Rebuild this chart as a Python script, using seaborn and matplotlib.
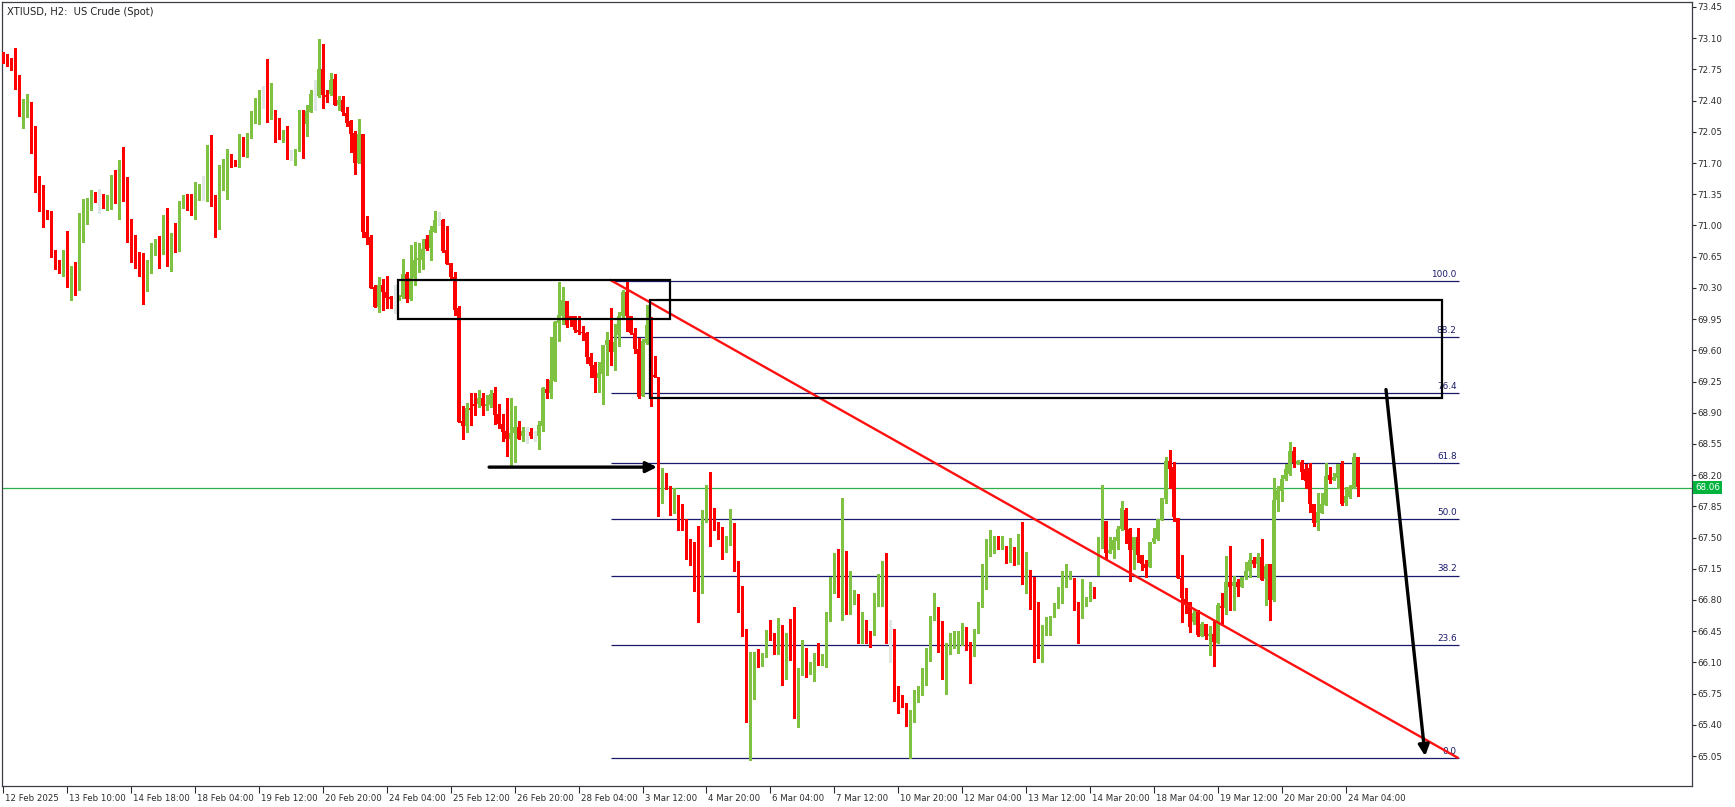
import numpy as np
import pandas as pd
import seaborn as sns
import matplotlib.pyplot as plt
import matplotlib.transforms as mtransforms
from matplotlib.patches import Rectangle

# XTIUSD H2 candles (bar 0 = 12 Feb 2025)
opens = [
    72.93, 72.83, 72.81, 72.76, 72.64, 72.33, 72.35, 72.38, 71.83, 71.53,
    71.26, 71.11, 71.08, 70.70, 70.57, 70.55, 70.64, 70.33, 70.50, 70.34,
    70.89, 71.04, 71.19, 71.35, 71.27, 71.29, 71.22, 71.26, 71.53, 71.34,
    71.65, 71.33, 71.02, 70.75, 70.66, 70.66, 70.29, 70.52, 70.73, 70.76,
    70.69, 70.88, 70.63, 70.81, 70.74, 71.26, 71.35, 71.20, 71.12, 71.38,
    71.40, 71.40, 71.60, 71.26, 70.99, 71.41, 71.43, 71.78, 71.72, 71.69,
    71.96, 71.80, 72.03, 72.23, 72.36, 72.40, 72.45, 72.19, 72.25, 72.07,
    72.01, 72.07, 71.79, 71.77, 71.84, 72.27, 72.14, 72.27, 72.46, 72.45,
    72.75, 72.46, 72.47, 72.64, 72.35, 72.41, 72.26, 72.17, 72.04, 71.70,
    72.03, 70.93, 70.87, 70.31, 70.09, 70.33, 70.25, 70.20, 70.17, 70.17,
    70.20, 70.46, 70.18, 70.41, 70.61, 70.61, 70.85, 70.75, 70.93, 71.06,
    71.06, 70.72, 70.58, 70.42, 70.07, 68.81, 68.75, 68.95, 69.00, 69.00,
    69.06, 68.97, 68.99, 69.12, 68.89, 68.77, 68.69, 68.60, 68.67, 68.74,
    68.64, 68.68, 68.68, 68.67, 68.64, 68.75, 69.17, 69.12, 69.26, 69.91,
    69.99, 70.15, 69.99, 69.99, 69.83, 69.81, 69.79, 69.53, 69.43, 69.29,
    69.33, 69.66, 69.71, 69.58, 69.77, 69.98, 70.25, 69.99, 69.79, 69.62,
    69.09, 69.68, 69.87, 69.32, 69.30, 68.08, 68.17, 68.08, 67.78, 67.92,
    67.72, 67.61, 67.33, 67.28, 67.26, 67.06, 67.74, 68.08, 67.74, 67.65,
    67.60, 67.41, 67.42, 67.61, 67.16, 66.71, 66.42, 65.55, 65.95, 66.12,
    66.10, 66.17, 66.46, 66.40, 66.21, 66.51, 66.22, 66.43, 66.25, 65.58,
    66.04, 66.24, 65.97, 66.09, 66.15, 66.13, 66.13, 66.62, 67.02, 67.05,
    66.80, 67.35, 66.76, 66.78, 66.87, 66.32, 66.50, 66.41, 66.41, 66.86,
    66.95, 67.18, 66.50, 66.37, 65.77, 65.71, 65.61, 65.48, 65.49, 65.66,
    65.74, 66.02, 66.13, 66.58, 66.59, 66.56, 65.94, 66.19, 66.33, 66.35,
    66.38, 66.40, 66.33, 66.23, 66.43, 66.73, 66.98, 67.33, 67.36, 67.42,
    67.38, 67.41, 67.23, 67.39, 67.20, 67.48, 66.99, 67.03, 66.80, 66.54,
    66.16, 66.43, 66.52, 66.61, 66.73, 66.77, 67.03, 67.03, 67.05, 66.76,
    66.68, 66.74, 66.80, 66.90, 67.08, 67.40, 67.69, 67.33, 67.36, 67.46,
    67.60, 67.81, 67.60, 67.36, 67.51, 67.30, 67.20, 67.17, 67.45, 67.48,
    67.70, 67.93, 68.36, 68.29, 67.72, 67.05, 66.81, 66.78, 66.55, 66.66,
    66.40, 66.53, 66.40, 66.42, 66.32, 66.73, 66.71, 67.00, 66.96, 67.00,
    66.95, 67.06, 67.13, 67.25, 67.20, 67.28, 67.03, 67.20, 66.80, 67.92,
    68.02, 68.16, 68.21, 68.47, 68.33, 68.35, 68.27, 68.28, 67.88, 67.66,
    67.78, 67.87, 68.20, 68.14, 68.17, 68.32, 67.89, 67.96, 68.06, 68.40,
]
highs = [
    72.94, 72.92, 72.88, 72.99, 72.69, 72.42, 72.47, 72.38, 72.11, 71.56,
    71.45, 71.17, 71.16, 70.73, 70.61, 70.73, 70.94, 70.55, 70.59, 71.14,
    71.30, 71.31, 71.40, 71.37, 71.41, 71.35, 71.34, 71.57, 71.62, 71.73,
    71.88, 71.54, 71.07, 70.89, 70.70, 70.69, 70.61, 70.80, 70.85, 70.88,
    71.12, 71.20, 70.91, 71.03, 71.27, 71.34, 71.35, 71.35, 71.49, 71.47,
    71.55, 71.90, 72.01, 71.34, 71.68, 71.75, 71.86, 71.80, 71.73, 72.03,
    71.99, 72.04, 72.28, 72.43, 72.52, 72.56, 72.87, 72.60, 72.30, 72.21,
    72.07, 72.11, 71.85, 71.86, 72.30, 72.30, 72.35, 72.52, 72.63, 73.09,
    73.03, 72.52, 72.71, 72.70, 72.45, 72.45, 72.33, 72.18, 72.06, 72.19,
    72.03, 71.11, 70.89, 70.33, 70.42, 70.40, 70.43, 70.21, 70.33, 70.22,
    70.62, 70.48, 70.78, 70.81, 70.80, 70.85, 70.89, 70.99, 71.16, 71.15,
    71.07, 70.99, 70.58, 70.48, 70.10, 68.97, 69.01, 69.12, 69.12, 69.16,
    69.12, 69.10, 69.16, 69.19, 69.00, 68.89, 69.07, 69.06, 68.98, 68.81,
    68.74, 68.74, 68.73, 68.69, 68.81, 69.19, 69.28, 69.75, 69.93, 70.37,
    70.31, 70.15, 69.99, 69.99, 69.98, 69.87, 69.80, 69.57, 69.47, 69.47,
    69.66, 69.80, 70.08, 69.90, 70.03, 70.28, 70.37, 69.99, 69.85, 69.74,
    69.73, 70.11, 69.97, 69.54, 69.30, 68.28, 68.22, 68.08, 68.06, 67.98,
    67.88, 67.71, 67.48, 67.45, 67.63, 67.81, 68.09, 68.24, 67.83, 67.68,
    67.62, 67.52, 67.82, 67.66, 67.24, 66.96, 66.47, 66.22, 66.22, 66.25,
    66.21, 66.46, 66.58, 66.43, 66.60, 66.52, 66.43, 66.59, 66.72, 66.04,
    66.35, 66.26, 66.10, 66.20, 66.32, 66.19, 66.66, 67.06, 67.33, 67.37,
    67.94, 67.35, 67.13, 66.91, 66.87, 66.66, 66.58, 66.45, 66.88, 67.09,
    67.24, 67.33, 66.58, 66.47, 65.83, 65.74, 65.64, 65.57, 65.79, 65.83,
    66.04, 66.26, 66.62, 66.88, 66.72, 66.56, 66.32, 66.43, 66.45, 66.45,
    66.54, 66.50, 66.33, 66.47, 66.78, 67.20, 67.48, 67.59, 67.52, 67.52,
    67.52, 67.41, 67.50, 67.39, 67.54, 67.68, 67.34, 67.14, 67.06, 66.78,
    66.52, 66.61, 66.62, 66.77, 66.95, 67.13, 67.20, 67.13, 67.05, 66.78,
    67.03, 66.83, 67.00, 66.95, 67.51, 68.09, 67.69, 67.51, 67.51, 67.63,
    67.91, 67.83, 67.61, 67.51, 67.61, 67.30, 67.25, 67.45, 67.61, 67.71,
    67.94, 68.40, 68.48, 68.35, 67.72, 67.31, 66.93, 66.78, 66.69, 66.69,
    66.55, 66.53, 66.51, 66.57, 66.77, 66.88, 67.29, 67.40, 67.07, 67.03,
    67.06, 67.23, 67.33, 67.28, 67.33, 67.48, 67.20, 67.20, 68.17, 68.08,
    68.20, 68.32, 68.57, 68.52, 68.37, 68.37, 68.33, 68.34, 67.88, 68.00,
    68.00, 68.34, 68.29, 68.22, 68.33, 68.36, 68.07, 68.09, 68.45, 68.40,
]
lows = [
    72.82, 72.79, 72.74, 72.53, 72.23, 72.09, 72.22, 71.81, 71.38, 71.16,
    70.98, 71.07, 70.65, 70.51, 70.47, 70.43, 70.31, 70.16, 70.22, 70.28,
    70.82, 71.02, 71.17, 71.26, 71.14, 71.20, 71.17, 71.18, 71.25, 71.07,
    71.27, 70.81, 70.59, 70.52, 70.43, 70.12, 70.26, 70.47, 70.67, 70.52,
    70.68, 70.54, 70.49, 70.70, 70.71, 71.20, 71.17, 71.12, 71.07, 71.28,
    71.28, 71.27, 71.22, 70.87, 70.96, 71.40, 71.30, 71.66, 71.67, 71.66,
    71.78, 71.77, 71.98, 72.15, 72.14, 72.32, 72.16, 72.19, 71.94, 71.97,
    71.94, 71.75, 71.73, 71.68, 71.84, 71.76, 72.00, 72.27, 72.29, 72.44,
    72.32, 72.38, 72.46, 72.35, 72.30, 72.24, 72.11, 71.82, 71.58, 71.70,
    70.87, 70.79, 70.30, 70.09, 70.03, 70.05, 70.08, 70.08, 70.02, 70.16,
    70.19, 70.14, 70.16, 70.33, 70.48, 70.51, 70.73, 70.61, 70.93, 71.00,
    70.70, 70.57, 70.41, 70.00, 68.80, 68.60, 68.68, 68.76, 68.88, 68.96,
    68.88, 68.93, 68.96, 68.77, 68.73, 68.58, 68.42, 68.30, 68.35, 68.60,
    68.58, 68.56, 68.62, 68.58, 68.49, 68.69, 69.06, 69.06, 69.26, 69.70,
    69.90, 69.86, 69.87, 69.81, 69.78, 69.72, 69.46, 69.30, 69.13, 69.13,
    69.00, 69.32, 69.43, 69.38, 69.65, 69.97, 69.82, 69.78, 69.57, 69.06,
    69.09, 69.67, 68.97, 69.30, 67.74, 67.89, 68.05, 67.75, 67.78, 67.58,
    67.59, 67.26, 67.19, 66.90, 66.55, 66.88, 67.68, 67.41, 67.59, 67.48,
    67.26, 67.34, 67.42, 67.13, 66.67, 66.40, 65.43, 65.01, 65.69, 66.05,
    66.06, 66.16, 66.35, 66.19, 66.19, 65.85, 65.91, 66.13, 65.48, 65.38,
    65.96, 65.94, 65.97, 65.89, 66.07, 66.07, 66.05, 66.56, 66.88, 66.83,
    66.58, 66.64, 66.64, 66.75, 66.32, 66.32, 66.32, 66.27, 66.41, 66.73,
    66.73, 66.32, 66.11, 65.67, 65.53, 65.60, 65.39, 65.03, 65.43, 65.66,
    65.74, 65.85, 66.12, 66.58, 66.22, 65.91, 65.75, 66.19, 66.26, 66.20,
    66.30, 66.24, 65.87, 66.17, 66.43, 66.72, 66.92, 67.29, 67.33, 67.37,
    67.37, 67.22, 67.23, 67.19, 67.20, 66.98, 66.88, 66.70, 66.11, 66.15,
    66.11, 66.41, 66.41, 66.61, 66.71, 66.77, 66.95, 67.03, 66.69, 66.32,
    66.60, 66.73, 66.79, 66.82, 67.08, 67.38, 67.26, 67.33, 67.27, 67.37,
    67.59, 67.44, 67.01, 67.15, 67.23, 67.14, 67.06, 67.17, 67.44, 67.47,
    67.70, 67.89, 68.06, 67.69, 67.05, 66.55, 66.65, 66.44, 66.53, 66.40,
    66.40, 66.36, 66.18, 66.06, 66.32, 66.52, 66.64, 66.69, 66.69, 66.84,
    66.95, 67.04, 67.06, 67.17, 67.06, 67.02, 66.74, 66.58, 66.79, 67.80,
    67.91, 68.15, 68.20, 68.29, 68.32, 68.16, 68.06, 67.79, 67.63, 67.58,
    67.78, 67.86, 68.11, 68.14, 68.06, 67.87, 67.87, 67.94, 68.06, 67.97,
]
closes = [
    72.82, 72.80, 72.75, 72.63, 72.33, 72.36, 72.38, 71.82, 71.54, 71.26,
    70.98, 71.07, 70.70, 70.56, 70.55, 70.64, 70.31, 70.51, 70.34, 70.89,
    71.05, 71.21, 71.26, 71.27, 71.27, 71.22, 71.27, 71.53, 71.35, 71.65,
    71.32, 71.01, 70.74, 70.65, 70.43, 70.29, 70.52, 70.73, 70.75, 70.69,
    70.88, 70.63, 70.82, 70.74, 71.27, 71.30, 71.20, 71.12, 71.38, 71.41,
    71.40, 71.61, 71.26, 70.99, 71.41, 71.45, 71.78, 71.66, 71.69, 71.95,
    71.80, 72.03, 72.24, 72.38, 72.45, 72.40, 72.19, 72.26, 72.06, 71.99,
    72.07, 71.79, 71.79, 71.85, 72.27, 72.15, 72.28, 72.47, 72.46, 72.75,
    72.46, 72.44, 72.63, 72.35, 72.41, 72.27, 72.15, 72.03, 71.70, 72.03,
    70.93, 70.86, 70.30, 70.09, 70.33, 70.25, 70.19, 70.18, 70.17, 70.22,
    70.46, 70.18, 70.41, 70.61, 70.63, 70.74, 70.74, 70.95, 71.06, 71.06,
    70.71, 70.57, 70.42, 70.05, 68.80, 68.75, 68.95, 68.93, 68.98, 69.06,
    68.97, 69.00, 69.11, 68.88, 68.77, 68.68, 68.60, 68.67, 68.74, 68.61,
    68.69, 68.68, 68.64, 68.67, 68.76, 69.18, 69.12, 69.27, 69.92, 70.00,
    70.16, 69.88, 69.94, 69.83, 69.80, 69.79, 69.53, 69.42, 69.29, 69.34,
    69.66, 69.71, 69.58, 69.69, 69.99, 70.25, 69.98, 69.79, 69.62, 69.08,
    69.70, 69.88, 69.32, 69.30, 68.08, 68.15, 68.07, 67.78, 67.92, 67.71,
    67.59, 67.33, 67.27, 67.26, 67.04, 67.76, 68.08, 67.74, 67.65, 67.56,
    67.42, 67.43, 67.61, 67.15, 66.68, 66.41, 65.55, 65.95, 66.12, 66.07,
    66.19, 66.46, 66.39, 66.20, 66.51, 66.28, 66.43, 66.22, 65.58, 66.04,
    66.24, 65.96, 66.10, 66.15, 66.13, 66.15, 66.62, 67.03, 67.05, 66.83,
    67.36, 66.75, 66.79, 66.79, 66.32, 66.49, 66.41, 66.39, 66.87, 66.96,
    67.19, 66.38, 66.50, 65.76, 65.69, 65.60, 65.48, 65.49, 65.67, 65.74,
    66.03, 66.14, 66.59, 66.60, 66.45, 65.94, 66.20, 66.32, 66.35, 66.37,
    66.40, 66.31, 66.23, 66.43, 66.76, 66.98, 67.34, 67.37, 67.42, 67.37,
    67.40, 67.23, 67.39, 67.19, 67.47, 66.99, 67.04, 66.80, 66.17, 66.16,
    66.44, 66.53, 66.61, 66.74, 66.86, 67.04, 67.07, 67.06, 66.75, 66.68,
    66.75, 66.80, 66.90, 66.88, 67.41, 67.68, 67.33, 67.36, 67.47, 67.60,
    67.83, 67.59, 67.36, 67.51, 67.30, 67.20, 67.16, 67.45, 67.50, 67.71,
    67.94, 68.36, 68.27, 67.73, 67.05, 66.82, 66.76, 66.50, 66.65, 66.41,
    66.53, 66.40, 66.42, 66.33, 66.74, 66.71, 67.00, 66.95, 67.00, 66.95,
    67.06, 67.13, 67.25, 67.20, 67.28, 67.02, 67.18, 66.80, 67.92, 68.03,
    68.16, 68.27, 68.47, 68.34, 68.36, 68.24, 68.13, 67.88, 67.66, 67.79,
    67.88, 68.19, 68.14, 68.18, 68.32, 67.88, 67.97, 68.07, 68.40, 68.07,
]

date_labels = ['12 Feb 2025', '13 Feb 10:00', '14 Feb 18:00', '18 Feb 04:00', '19 Feb 12:00',
               '20 Feb 20:00', '24 Feb 04:00', '25 Feb 12:00', '26 Feb 20:00', '28 Feb 04:00',
               '3 Mar 12:00', '4 Mar 20:00', '6 Mar 04:00', '7 Mar 12:00', '10 Mar 20:00',
               '12 Mar 04:00', '13 Mar 12:00', '14 Mar 20:00', '18 Mar 04:00', '19 Mar 12:00',
               '20 Mar 20:00', '24 Mar 04:00']
label_bars = [16 * k for k in range(len(date_labels))]
price_ticks = [65.05, 65.40, 65.75, 66.10, 66.45, 66.80, 67.15, 67.50, 67.85, 68.20, 68.55,
               68.90, 69.25, 69.60, 69.95, 70.30, 70.65, 71.00, 71.35, 71.70, 72.05, 72.40,
               72.75, 73.10, 73.45]

# fibonacci retracement (high of 28 Feb to low of 4 Mar)
fib_names = ['0.0', '23.6', '38.2', '50.0', '61.8', '76.4', '88.2', '100.0']
fib_ratios = [0.0, 0.236, 0.382, 0.5, 0.618, 0.764, 0.882, 1.0]
fib_low, fib_high = 65.03, 70.38
fib_bars = [152.1, 364.4]

# drawings on the chart: (bar, price) pairs
trend_bars = [151.9, 364.1]
trend_prices = [70.39, 65.03]
zone1 = [98.8, 166.9, 69.95, 70.39]
zone2 = [161.9, 360.0, 69.06, 70.16]
arrow_h = [121.6, 163.6, 68.29, 68.29]
arrow_d = [346.1, 355.9, 69.16, 65.05]
last_price = 68.06

GREEN = '#7fc241'
RED = '#ff0000'
DOJI = '#dfe6e6'
NAVY = '#1a1a6b'
AXIS = '#3a3f47'

sns.set_theme(style='white')
plt.rcParams['font.family'] = ['DejaVu Sans']

df = pd.DataFrame({'bar': np.arange(len(closes)), 'open': opens, 'high': highs,
                   'low': lows, 'close': closes})

fig = plt.figure(figsize=(17.35, 8.07), dpi=100)
ax = fig.add_axes([2 / 1735, 21 / 807, 1690 / 1735, 784 / 807])

kinds = [(df.close > df.open, GREEN), (df.close < df.open, RED), (df.close == df.open, DOJI)]
for mask, col in kinds:
    sub = df[mask]
    ax.vlines(sub.bar, sub.low, sub.high, color=col, lw=0.8, antialiased=False, zorder=3)
    body = np.maximum((sub.close - sub.open).abs(), 0.012)
    ax.bar(sub.bar, body, bottom=np.minimum(sub.open, sub.close), width=0.72,
           color=col, linewidth=0, antialiased=False, zorder=3)

# fib levels
for name, r in zip(fib_names, fib_ratios):
    lvl = fib_low + r * (fib_high - fib_low)
    ax.hlines(lvl, fib_bars[0], fib_bars[1], color=NAVY, lw=0.9, zorder=2)
    ax.text(fib_bars[1] - 0.6, lvl + 0.025, name, color=NAVY, fontsize=6.4,
            ha='right', va='bottom', zorder=4)

# current price line
ax.axhline(last_price, color='#2db04b', lw=0.9, zorder=2)

# trend line
sns.lineplot(x=trend_bars, y=trend_prices, color='#ff1010', lw=1.7, ax=ax, zorder=5)

# supply zones
for x0, x1, y0, y1 in [zone1, zone2]:
    ax.add_patch(Rectangle((x0, y0), x1 - x0, y1 - y0, fill=False, ec='black', lw=1.6, zorder=6))

# arrows
for x0, x1, y0, y1 in [arrow_h, arrow_d]:
    ax.annotate('', xy=(x1, y1), xytext=(x0, y0),
                arrowprops=dict(arrowstyle='-|>', color='black', lw=2.4,
                                mutation_scale=16, shrinkA=0, shrinkB=0), zorder=7)

ax.set_xlim(-0.33, 422.7)
ax.set_ylim(64.714, 73.506)

for s in ax.spines.values():
    s.set_visible(True)
    s.set_color(AXIS)
    s.set_linewidth(0.9)

ax.yaxis.tick_right()
ax.set_yticks(price_ticks)
ax.set_yticklabels([f'{v:.2f}' for v in price_ticks])
ax.tick_params(axis='y', direction='out', length=3, width=0.8, pad=1,
               labelsize=6.3, colors='#2b2b2b', right=True, left=False)
ax.set_xticks(label_bars)
ax.set_xticklabels(date_labels, ha='left')
ax.tick_params(axis='x', direction='out', length=5, width=0.8, pad=1,
               labelsize=6.2, colors='#2b2b2b', bottom=True)
shift = mtransforms.ScaledTranslation(2 / 100, 0, fig.dpi_scale_trans)
for lab in ax.get_xticklabels():
    lab.set_transform(lab.get_transform() + shift)
ax.set_xlabel('')
ax.set_ylabel('')
ax.grid(False)

# price tag for the last price
ax.text(1.0018, last_price, f'{last_price:.2f}', transform=ax.get_yaxis_transform(),
        ha='left', va='center', fontsize=6.3, color='white',
        bbox=dict(boxstyle='square,pad=0.22', fc='#00b33c', ec='none'), zorder=8,
        clip_on=False)

ax.text(0.003, 0.994, 'XTIUSD, H2:  US Crude (Spot)', transform=ax.transAxes,
        ha='left', va='top', fontsize=7.2, color='#222222')

fig.savefig('out.png', dpi=100)
